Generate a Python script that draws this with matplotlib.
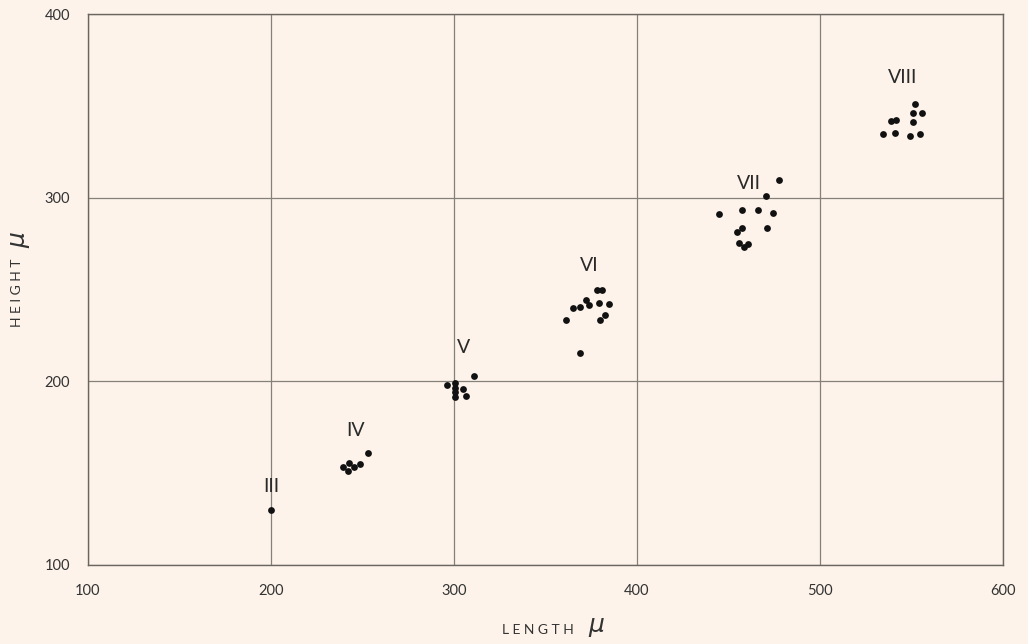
import matplotlib.pyplot as plt

# instar clusters: length (mu) and height (mu) of each specimen
length_III = [200]
height_III = [130]

length_IV = [239.3, 242.0, 242.6, 245.4, 248.6, 253.0]
height_IV = [153.3, 151.2, 155.5, 153.3, 155.0, 161.0]

length_V = [296.0, 300.5, 300.5, 304.8, 300.5, 300.5, 306.6, 311.0]
height_V = [198.0, 199.2, 196.4, 195.8, 194.2, 191.5, 192.0, 202.9]

length_VI = [378.0, 381.0, 372.0, 374.0, 379.2, 384.9, 365.2, 368.9, 361.2, 379.8, 382.5, 368.9]
height_VI = [249.7, 249.7, 244.3, 241.5, 242.5, 242.1, 239.7, 240.3, 233.7, 233.4, 236.1, 215.2]

length_VII = [444.8, 457.4, 466.1, 470.5, 477.6, 454.6, 457.4, 471.0, 474.3, 455.7, 458.5, 460.7]
height_VII = [291.1, 293.3, 293.3, 300.9, 309.6, 281.3, 283.5, 283.5, 291.6, 275.3, 273.1, 274.7]

length_VIII = [551.9, 551.0, 555.9, 551.0, 538.6, 541.5, 534.6, 541.0, 549.2, 554.6]
height_VIII = [351.3, 345.9, 346.2, 341.3, 341.7, 342.3, 334.6, 335.3, 333.5, 335.0]

stage_names = ['III', 'IV', 'V', 'VI', 'VII', 'VIII']
label_x = [200, 246, 305, 374, 461, 545]
label_y = [142.5, 173.5, 218.5, 263, 308, 365.5]

x_ticks = [100, 200, 300, 400, 500, 600]
y_ticks = [100, 200, 300, 400]

bg = '#fdf3ea'
plt.rcParams['font.family'] = ['Lato', 'DejaVu Sans']

fig = plt.figure(figsize=(10.28, 6.44), dpi=100, facecolor=bg)
ax = fig.add_axes([0.0856, 0.1227, 0.8901, 0.8553])
ax.set_facecolor(bg)

xs = [length_III, length_IV, length_V, length_VI, length_VII, length_VIII]
ys = [height_III, height_IV, height_V, height_VI, height_VII, height_VIII]
for lx, hy in zip(xs, ys):
    ax.scatter(lx, hy, s=24, color='#111111', zorder=3, linewidths=0)

for name, tx, ty in zip(stage_names, label_x, label_y):
    ax.text(tx, ty, name, fontsize=14, color='#2a2a2a', ha='center', va='center')

ax.set_xlim(100, 600)
ax.set_ylim(100, 400)
ax.set_xticks(x_ticks)
ax.set_yticks(y_ticks)
ax.tick_params(length=0, labelsize=10.5, colors='#333333', pad=14)
ax.tick_params(axis='y', pad=13)
ax.grid(True, color='#858079', linewidth=0.9)
ax.set_axisbelow(True)
for sp in ax.spines.values():
    sp.set_color('#6a6560')
    sp.set_linewidth(1.0)

fig.text(0.523, 0.012, 'L E N G T H', fontsize=10, color='#333333', ha='center', va='bottom')
fig.text(0.580, 0.008, r'$\mu$', fontsize=18, color='#333333', ha='center', va='bottom')
fig.text(0.011, 0.545, 'H E I G H T', fontsize=10, color='#333333', rotation=90,
         ha='left', va='center')
fig.text(0.009, 0.628, r'$\mu$', fontsize=18, color='#333333', rotation=90, ha='left', va='center')

fig.savefig('out.png', dpi=100, facecolor=bg)
